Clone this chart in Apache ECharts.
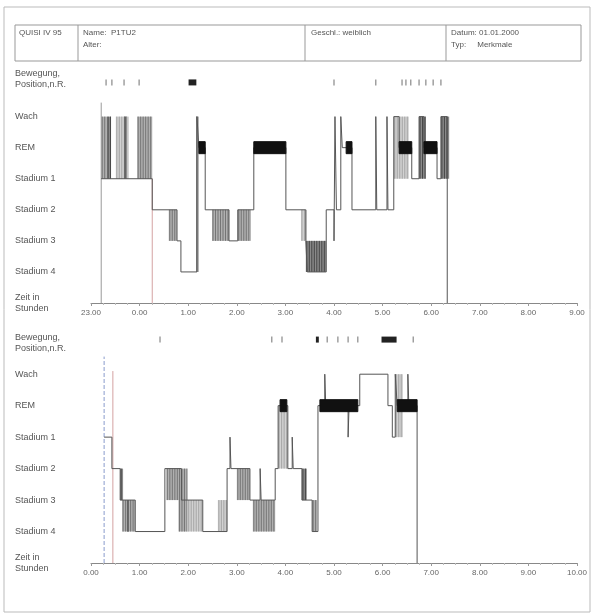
<!DOCTYPE html>
<html>
<head>
<meta charset="utf-8">
<script src="https://cdn.jsdelivr.net/npm/echarts@6.0.0/dist/echarts.min.js"></script>
<style>
  html, body { margin: 0; padding: 0; background: #fff; }
  #chart { width: 594px; height: 616px; }
</style>
</head>
<body>
<div id="chart"></div>
<script>
// Stufen: 0 Achse, 1 Stadium 4, 2 Stadium 3, 3 Stadium 2, 4 Stadium 1, 5 REM, 6 Wach
const stageNames = ['Zeit in\nStunden', 'Stadium 4', 'Stadium 3', 'Stadium 2', 'Stadium 1', 'REM', 'Wach', 'Bewegung,\nPosition,n.R.']
const topTicks = ['23.00', '0.00', '1.00', '2.00', '3.00', '4.00', '5.00', '6.00', '7.00', '8.00', '9.00']
const bottomTicks = ['0.00', '1.00', '2.00', '3.00', '4.00', '5.00', '6.00', '7.00', '8.00', '9.00', '10.00']

// Nacht 1 – Stufenwechsel [Stunde, Stadium]
const topStages = [
  [0.21, 4], [1.26, 3], [1.77, 2], [1.85, 1], [2.18, 6], [2.22, 5], [2.35, 3],
  [2.84, 2], [3.02, 3], [3.35, 5], [4.01, 3], [4.42, 2], [4.45, 1], [4.84, 3],
  [5.0, 2], [5.02, 6], [5.05, 3], [5.14, 6], [5.17, 5], [5.37, 3], [5.86, 6], [5.88, 3],
  [6.09, 6], [6.11, 3], [6.23, 6], [6.34, 5], [6.6, 4], [6.75, 6], [6.85, 5], [7.12, 4],
  [7.2, 6], [7.33, 0]
]
// schnelle Wechsel [von, bis, oberes Stadium, unteres Stadium, Dichte 1..3]
const topBlocks = [
  [0.21, 0.33, 6, 4, 2], [0.33, 0.41, 6, 4, 3], [0.51, 0.78, 6, 4, 1], [0.68, 0.74, 6, 4, 3],
  [0.95, 1.26, 6, 4, 2], [1.6, 1.77, 3, 2, 2], [2.16, 2.22, 6, 1, 2], [2.49, 2.84, 3, 2, 2],
  [3.02, 3.29, 3, 2, 2], [4.32, 4.44, 3, 2, 1], [4.42, 4.84, 2, 1, 3], [6.23, 6.54, 6, 4, 1],
  [6.75, 6.89, 6, 4, 3], [7.2, 7.37, 6, 4, 3]
]
const topRem = [[2.22, 2.35], [3.35, 4.01], [5.25, 5.37], [6.34, 6.6], [6.85, 7.12]]
const topMoves = [
  [0.31, 0.31], [0.43, 0.43], [0.68, 0.68], [0.99, 0.99], [2.02, 2.18], [5.0, 5.0],
  [5.86, 5.86], [6.4, 6.4], [6.48, 6.48], [6.58, 6.58], [6.75, 6.75], [6.89, 6.89],
  [7.04, 7.04], [7.2, 7.2]
]
const topAxisLine = [[0.21, 0], [0.21, 6.45]]
const topLightsOff = [[1.26, 0], [1.26, 4]]

// Nacht 2
const bottomStages = [
  [0.27, 4], [0.43, 3], [0.6, 2], [0.91, 1], [1.52, 3], [1.86, 2], [2.3, 1], [2.8, 3],
  [2.86, 4], [2.88, 3], [3.27, 2], [3.48, 3], [3.5, 2], [3.79, 3], [3.85, 5], [4.05, 3],
  [4.14, 4], [4.16, 3], [4.34, 2], [4.55, 1], [4.67, 5], [4.81, 6], [4.83, 5], [5.29, 4],
  [5.31, 5], [5.53, 6], [6.11, 5], [6.2, 4], [6.26, 6], [6.3, 5], [6.52, 6], [6.54, 5],
  [6.71, 0]
]
const bottomBlocks = [
  [0.6, 0.66, 3, 2, 3], [0.64, 0.91, 2, 1, 2], [0.74, 0.78, 2, 1, 3], [1.55, 1.86, 3, 2, 2],
  [1.8, 1.98, 3, 1, 2], [1.99, 2.3, 2, 1, 1], [2.61, 2.8, 2, 1, 1], [3.0, 3.27, 3, 2, 2],
  [3.33, 3.79, 2, 1, 2], [3.85, 4.05, 5, 3, 1], [4.34, 4.44, 3, 2, 3], [4.55, 4.65, 2, 1, 2],
  [6.26, 6.42, 6, 4, 1]
]
const bottomRem = [[3.89, 4.03], [4.71, 5.49], [6.3, 6.71]]
const bottomMoves = [
  [1.42, 1.42], [3.72, 3.72], [3.93, 3.93], [4.64, 4.7], [4.86, 4.86], [5.08, 5.08],
  [5.29, 5.29], [5.49, 5.49], [5.99, 6.3], [6.63, 6.63]
]
const bottomAxisLine = [[0.27, 0], [0.27, 6.56]]
const bottomLightsOff = [[0.45, 0], [0.45, 6.1]]

const chart = echarts.init(document.getElementById('chart'))
const font = 'Liberation Sans, Arial, sans-serif'
const shades = ['#d2d2d2', '#b0b0b0', '#8a8a8a']
const stripes = ['#999', '#666', '#333']

const blockItem = (params, api) => {
  const a = api.coord([api.value(0), api.value(2)])
  const b = api.coord([api.value(1), api.value(3)])
  const k = api.value(4) - 1
  const w = Math.max(b[0] - a[0], 1.5)
  const children = [{ type: 'rect', shape: { x: a[0], y: a[1], width: w, height: b[1] - a[1] }, style: { fill: shades[k] } }]
  for (let x = a[0] + 1; x < a[0] + w; x += 2.5) {
    children.push({ type: 'line', shape: { x1: x, y1: a[1], x2: x, y2: b[1] }, style: { stroke: stripes[k], lineWidth: 0.8 } })
  }
  return { type: 'group', children }
}

const remItem = (params, api) => {
  const a = api.coord([api.value(0), 5])
  const b = api.coord([api.value(1), 5])
  return {
    type: 'rect',
    shape: { x: a[0], y: a[1] - 6, width: b[0] - a[0], height: 12 },
    style: { fill: '#111', stroke: '#111', lineWidth: 1 }
  }
}

const moveItem = (params, api) => {
  const a = api.coord([api.value(0), 7.1])
  const b = api.coord([api.value(1), 7.1])
  const wide = b[0] - a[0] > 2
  return {
    type: 'rect',
    shape: { x: a[0] - 0.6, y: a[1] - 3, width: Math.max(b[0] - a[0], 1.2), height: 6 },
    style: { fill: wide ? '#222' : '#888' }
  }
}

const xAxisFor = (gridIndex, ticks) => ({
  gridIndex, type: 'value', min: 0, max: 10, interval: 1,
  axisLine: { lineStyle: { color: '#888', width: 1 } },
  axisTick: { length: 3, lineStyle: { color: '#999' } },
  minorTick: { show: true, splitNumber: 4, length: 2, lineStyle: { color: '#bbb' } },
  splitLine: { show: false },
  axisLabel: { fontSize: 8, color: '#666', fontFamily: font, margin: 6, formatter: (v) => ticks[Math.round(v)] }
})

const yAxisFor = (gridIndex, labelTop) => ({
  gridIndex, type: 'value', min: 0, max: 7.5,
  axisLine: { show: false }, axisTick: { show: false }, splitLine: { show: false },
  axisLabel: {
    customValues: [0, 1, 2, 3, 4, 5, 6, labelTop],
    fontSize: 9, lineHeight: 11, color: '#555', fontFamily: font, align: 'left', margin: 76,
    formatter: (v) => stageNames[Math.round(v)]
  }
})

const seriesFor = (i, stages, blocks, rem, moves, axisLine, lightsOff, dashed) => [
  { type: 'custom', xAxisIndex: i, yAxisIndex: i, renderItem: blockItem, data: blocks, clip: false, silent: true, z: 2 },
  { type: 'line', xAxisIndex: i, yAxisIndex: i, data: axisLine, symbol: 'none', silent: true, z: 2,
    lineStyle: { color: dashed ? '#8a9ccc' : '#999', width: 1, type: dashed ? 'dashed' : 'solid' } },
  { type: 'line', xAxisIndex: i, yAxisIndex: i, data: lightsOff, symbol: 'none', silent: true, z: 2,
    lineStyle: { color: '#d4a2a2', width: 1 } },
  { type: 'line', xAxisIndex: i, yAxisIndex: i, data: stages, step: 'end', symbol: 'none', silent: true, z: 3,
    lineStyle: { color: '#555', width: 1 } },
  { type: 'custom', xAxisIndex: i, yAxisIndex: i, renderItem: remItem, data: rem, clip: false, silent: true, z: 5 },
  { type: 'custom', xAxisIndex: i, yAxisIndex: i, renderItem: moveItem, data: moves, clip: false, silent: true, z: 5 }
]

const headText = (x, y, text) => ({ type: 'text', x, y, style: { text, fontSize: 8, fill: '#555', fontFamily: font } })

chart.setOption({
  animation: false,
  backgroundColor: '#fff',
  grid: [
    { left: 91, right: 17, top: 70, height: 233 },
    { left: 91, right: 17, top: 327, height: 236 }
  ],
  xAxis: [xAxisFor(0, topTicks), xAxisFor(1, bottomTicks)],
  yAxis: [yAxisFor(0, 7.2), yAxisFor(1, 7)],
  series: [
    ...seriesFor(0, topStages, topBlocks, topRem, topMoves, topAxisLine, topLightsOff, false),
    ...seriesFor(1, bottomStages, bottomBlocks, bottomRem, bottomMoves, bottomAxisLine, bottomLightsOff, true)
  ],
  graphic: [
    { type: 'rect', shape: { x: 4, y: 7, width: 586, height: 605 }, style: { fill: 'none', stroke: '#bbb' } },
    { type: 'rect', shape: { x: 15, y: 25, width: 566, height: 36 }, style: { fill: 'none', stroke: '#999' } },
    { type: 'line', shape: { x1: 78, y1: 25, x2: 78, y2: 61 }, style: { stroke: '#999' } },
    { type: 'line', shape: { x1: 305, y1: 25, x2: 305, y2: 61 }, style: { stroke: '#999' } },
    { type: 'line', shape: { x1: 446, y1: 25, x2: 446, y2: 61 }, style: { stroke: '#999' } },
    headText(19, 29, 'QUISI IV 95'),
    headText(83, 29, 'Name:  P1TU2'),
    headText(83, 41, 'Alter:'),
    headText(311, 29, 'Geschl.: weiblich'),
    headText(451, 29, 'Datum: 01.01.2000'),
    headText(451, 41, 'Typ:     Merkmale')
  ]
})
</script>
</body>
</html>
